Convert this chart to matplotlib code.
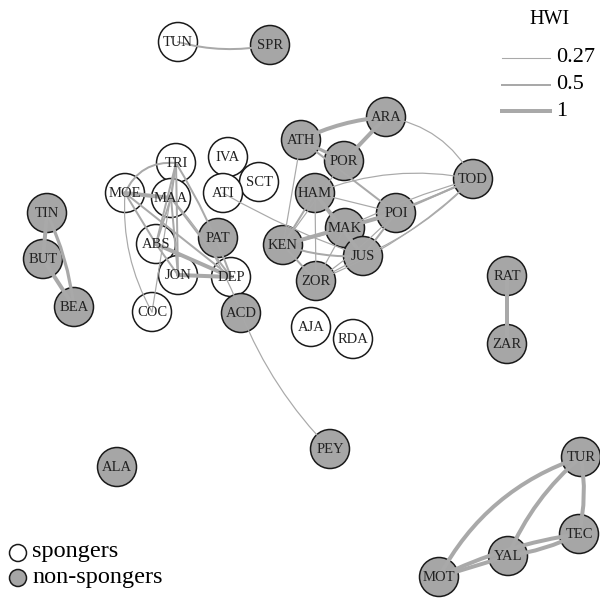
import matplotlib.pyplot as plt
from matplotlib.patches import Circle, FancyArrowPatch
from matplotlib.lines import Line2D

plt.rcParams['font.family'] = ['Liberation Serif', 'DejaVu Serif']

# node layout (pixel coordinates of the original picture) and sponging status
names = ["TUN", "SPR", "TRI", "IVA", "SCT", "MOE", "MAA", "ATI", "ABS", "PAT",
         "JON", "DEP", "COC", "ACD", "AJA", "RDA", "TIN", "BUT", "BEA", "ATH",
         "ARA", "POR", "HAM", "TOD", "POI", "MAK", "KEN", "JUS", "ZOR", "RAT",
         "ZAR", "PEY", "ALA", "TUR", "TEC", "YAL", "MOT"]
node_x = [178, 270, 176, 228, 259, 125, 171, 223, 156, 218,
          178, 231, 152, 241, 311, 353, 47, 43, 74, 301,
          386, 344, 315, 473, 396, 345, 283, 363, 316, 507,
          507, 330, 117, 581, 579, 508, 439]
node_y = [42, 45, 163, 157, 182, 193, 198, 193, 244, 238,
          275, 277, 312, 313, 327, 339, 213, 259, 307, 140,
          117, 161, 193, 179, 213, 228, 245, 256, 281, 276,
          344, 449, 467, 457, 534, 556, 577]
sponger = ["TUN", "TRI", "IVA", "SCT", "MOE", "MAA", "ATI", "ABS", "JON", "DEP",
           "COC", "AJA", "RDA"]

# edges: (a, b, HWI)
edges = [
    ("TUN", "SPR", 0.5),
    ("TIN", "BUT", 1), ("BUT", "BEA", 1), ("TIN", "BEA", 0.8),
    ("RAT", "ZAR", 1),
    ("TUR", "TEC", 1), ("TUR", "YAL", 1), ("TUR", "MOT", 1),
    ("TEC", "YAL", 1), ("TEC", "MOT", 1), ("YAL", "MOT", 1),
    ("ACD", "PEY", 0.3),
    ("ARA", "ATH", 1), ("ARA", "POR", 1), ("ARA", "TOD", 0.3),
    ("ATH", "POR", 0.8), ("ATH", "POI", 0.5), ("ATH", "KEN", 0.3),
    ("POR", "KEN", 0.3),
    ("HAM", "TOD", 0.3), ("HAM", "POI", 0.3), ("HAM", "JUS", 1),
    ("HAM", "KEN", 0.5), ("HAM", "ZOR", 0.3),
    ("KEN", "TOD", 0.5), ("KEN", "POI", 1), ("KEN", "MAK", 0.5),
    ("KEN", "JUS", 0.5), ("KEN", "ZOR", 0.5),
    ("ZOR", "TOD", 0.3), ("ZOR", "POI", 0.3), ("ZOR", "JUS", 0.3), ("ZOR", "MAK", 0.3),
    ("JUS", "TOD", 0.3), ("JUS", "POI", 0.5), ("MAK", "TOD", 0.3),
    ("POI", "TOD", 0.5), ("MAK", "POI", 0.5),
    ("ATI", "JUS", 0.3),
    ("MOE", "MAA", 1), ("MOE", "TRI", 0.5), ("MOE", "DEP", 0.5),
    ("MOE", "COC", 0.3), ("MOE", "ABS", 0.5),
    ("TRI", "MAA", 0.5), ("TRI", "ABS", 0.5), ("TRI", "COC", 0.3),
    ("TRI", "DEP", 0.5), ("TRI", "JON", 0.5),
    ("MAA", "DEP", 0.5), ("MAA", "ACD", 0.3), ("MAA", "JON", 0.5), ("MAA", "ABS", 0.5),
    ("ABS", "DEP", 1), ("JON", "DEP", 1), ("ABS", "JON", 0.5),
]
# curvature of each edge (same order)
curv = [0.12, 0, 0, -0.08, 0, -0.1, 0.12, 0.2, -0.08, 0.08, 0,
        0.1, 0.1, 0, -0.25, 0, 0, 0, 0,
        -0.15, 0, 0, 0, 0, 0.05, 0, 0, 0.1, 0, 0.1, 0.05, 0, 0,
        0.1, 0, -0.05, 0, 0, 0.05,
        0, -0.35, 0, 0.15, 0,
        0, 0, 0, -0.05, 0,
        0, -0.1, 0, 0, 0, 0, 0]

legend_w = [0.27, 0.5, 1]

pos = {n: (x, y) for n, x, y in zip(names, node_x, node_y)}

fig = plt.figure(figsize=(6, 5.99), dpi=100)
ax = fig.add_axes([0, 0, 1, 1])
ax.set_xlim(0, 600)
ax.set_ylim(599, 0)
ax.set_aspect("equal")
ax.axis("off")

edge_col = "#a9a9a9"
fill_grey = "#a6a6a6"
R = 19.5
px = 0.72  # points per pixel at 100 dpi

for n in names:
    fc = "white" if n in sponger else fill_grey
    ax.add_patch(Circle(pos[n], R, facecolor=fc, edgecolor="#1a1a1a", lw=1.1, zorder=2))

for (a, b, w), c in zip(edges, curv):
    p = FancyArrowPatch(pos[a], pos[b], connectionstyle=f"arc3,rad={c}",
                        arrowstyle="-", color=edge_col, lw=4.0 * w * px,
                        shrinkA=0, shrinkB=0, zorder=3)
    ax.add_patch(p)

for n in names:
    ax.text(pos[n][0], pos[n][1] + 0.5, n, ha="center", va="center",
            fontsize=10.5, color="#222222", zorder=4)

# HWI legend
ax.text(550, 20, "HWI", ha="center", va="center", fontsize=14.5)
for i, w in enumerate(legend_w):
    y = 58 + i * 26.5
    ax.add_line(Line2D([502, 550], [y, y], color=edge_col, lw=4.0 * w * px))
    ax.text(556, y, str(w), ha="left", va="center", fontsize=16)

# sponger legend
ax.add_patch(Circle((18, 553), 8.5, facecolor="white", edgecolor="#1a1a1a", lw=1.1))
ax.text(32, 552, "spongers", ha="left", va="center", fontsize=17.5)
ax.add_patch(Circle((18, 578), 8.5, facecolor=fill_grey, edgecolor="#1a1a1a", lw=1.1))
ax.text(32, 577, "non-spongers", ha="left", va="center", fontsize=17.5)

fig.savefig("out.png", dpi=100)
